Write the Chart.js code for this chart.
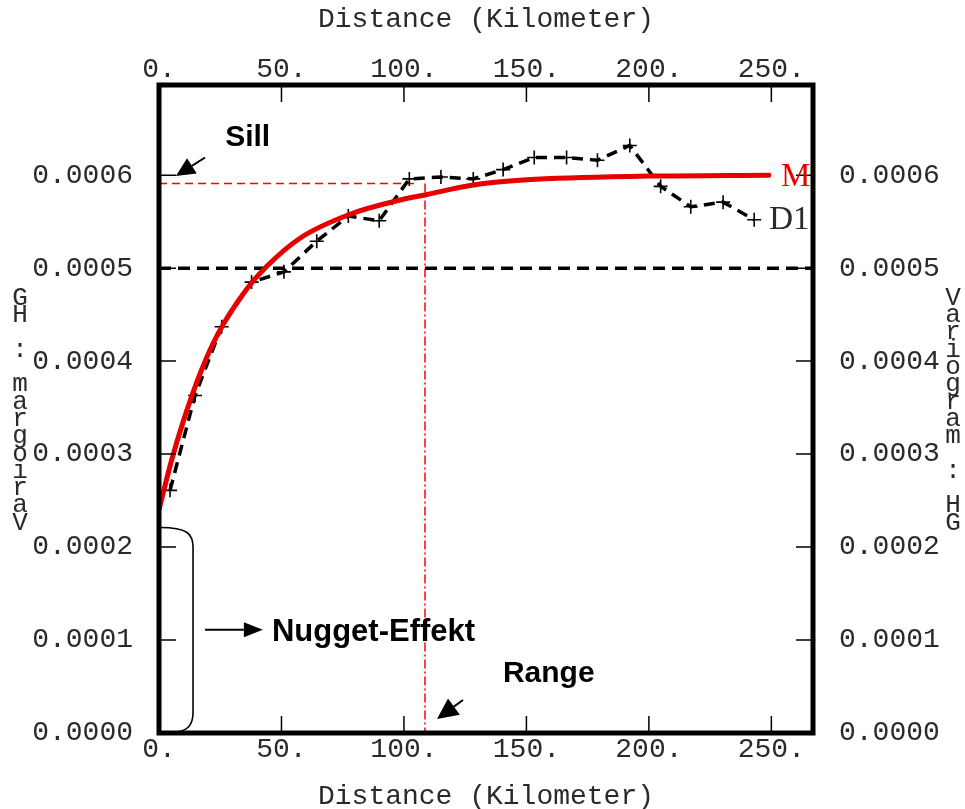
<!DOCTYPE html>
<html>
<head>
<meta charset="utf-8">
<script src="https://cdn.jsdelivr.net/npm/chart.js@4"></script>
<style>
  body { margin: 0; background: #fff; }
</style>
</head>
<body>
<canvas id="vario" width="965" height="809"></canvas>
<script>
// experimental variogram D1 (distance km, gamma)
const lagKm = [4.5, 14.7, 25.6, 37.8, 51, 64.4, 77.3, 89.9, 102.2, 115.1, 128.3, 140.5, 153.2, 166.4, 179, 192.2, 204.8, 217.1, 230.3, 243];
const gammaD1 = [0.000261, 0.000363, 0.000437, 0.000485, 0.000496, 0.000529, 0.000556, 0.000551, 0.000596, 0.000598,
                 0.000596, 0.000606, 0.000619, 0.000619, 0.000616, 0.000632, 0.000588, 0.000566, 0.000571, 0.000552];

// fitted model M
const modelKm = [0, 5, 10, 17, 24, 36, 44, 58, 78, 98, 109, 127, 150, 200, 249];
const gammaM = [0.00024, 0.000292, 0.000336, 0.000388, 0.000429, 0.000478, 0.000502, 0.000533, 0.000558,
                0.000573, 0.000579, 0.000589, 0.000595, 0.000599, 0.0006];

const xTicks = [0, 50, 100, 150, 200, 250];
const yTicks = [0, 0.0001, 0.0002, 0.0003, 0.0004, 0.0005, 0.0006];

const refLevel = 0.0005;   // black dashed line
const sillLevel = 0.000591;
const sillEndKm = 105;
const rangeKm = 108.6;
const nuggetTop = 0.000221;

const xMax = 267, yMax = 0.000697;
const monoFont = '"Liberation Mono", "DejaVu Sans Mono", monospace';
const textColor = '#2a2a2a';

const pts = (xs, ys) => xs.map((v, i) => ({x: v, y: ys[i]}));

function arrow(ctx, x1, y1, x2, y2, head, wing) {
  const ang = Math.atan2(y2 - y1, x2 - x1);
  const bx = x2 - head * Math.cos(ang), by = y2 - head * Math.sin(ang);
  ctx.beginPath();
  ctx.moveTo(x1, y1);
  ctx.lineTo(bx, by);
  ctx.stroke();
  ctx.beginPath();
  ctx.moveTo(x2, y2);
  ctx.lineTo(bx + wing * Math.sin(ang), by - wing * Math.cos(ang));
  ctx.lineTo(bx - wing * Math.sin(ang), by + wing * Math.cos(ang));
  ctx.closePath();
  ctx.fill();
}

const decor = {
  id: 'decor',
  afterDraw(chart) {
    const {ctx, chartArea: a, scales} = chart;
    const X = v => scales.x.getPixelForValue(v);
    const Y = v => scales.y.getPixelForValue(v);
    ctx.save();

    // inward tick marks
    ctx.strokeStyle = '#000';
    ctx.lineWidth = 1.5;
    ctx.beginPath();
    xTicks.forEach(v => {
      const px = X(v);
      ctx.moveTo(px, a.bottom); ctx.lineTo(px, a.bottom - 17);
      ctx.moveTo(px, a.top); ctx.lineTo(px, a.top + 17);
    });
    yTicks.forEach(v => {
      const py = Y(v);
      ctx.moveTo(a.left, py); ctx.lineTo(a.left + 17, py);
      ctx.moveTo(a.right, py); ctx.lineTo(a.right - 17, py);
    });
    ctx.stroke();

    // series names at the line ends
    ctx.save();
    ctx.beginPath();
    ctx.rect(a.left, a.top, a.right - a.left, a.bottom - a.top);
    ctx.clip();
    ctx.font = '33px "Liberation Serif", serif';
    ctx.textBaseline = 'middle';
    ctx.textAlign = 'left';
    const mEnd = chart.getDatasetMeta(0).data[gammaM.length - 1];
    ctx.fillStyle = '#e60000';
    ctx.fillText('M', mEnd.x + 12, mEnd.y + 2);
    const dEnd = chart.getDatasetMeta(1).data[gammaD1.length - 1];
    ctx.fillStyle = textColor;
    ctx.fillText('D1', dEnd.x + 15, dEnd.y + 1);
    ctx.restore();

    // annotations
    ctx.fillStyle = '#000';
    ctx.strokeStyle = '#000';
    ctx.font = 'bold 30px "Liberation Sans", Arial, sans-serif';
    ctx.textBaseline = 'alphabetic';
    ctx.fillText('Sill', X(27), Y(0.000631));
    ctx.lineWidth = 2;
    arrow(ctx, X(18.8), Y(0.000619), X(6.9), Y(0.000599), 19, 9);

    ctx.font = 'bold 31px "Liberation Sans", Arial, sans-serif';
    ctx.fillText('Nugget-Effekt', X(46.1), Y(0.0001) + 1);
    arrow(ctx, X(18.8), Y(0.000111), X(42.4), Y(0.000111), 19, 7.5);

    ctx.font = 'bold 30px "Liberation Sans", Arial, sans-serif';
    ctx.fillText('Range', X(140.4), Y(0.0000548));
    arrow(ctx, X(124.1), Y(0.0000355), X(113.5), Y(0.000015), 21, 10);

    // nugget bracket
    const bTop = Y(nuggetTop), bBot = a.bottom - 1, bx = X(13.9);
    ctx.lineWidth = 1.6;
    ctx.beginPath();
    ctx.moveTo(a.left + 1, bTop);
    ctx.bezierCurveTo(bx - 6, bTop, bx, bTop + 6, bx, bTop + 20);
    ctx.lineTo(bx, bBot - 20);
    ctx.bezierCurveTo(bx, bBot - 6, bx - 6, bBot, bx - 21, bBot);
    ctx.stroke();

    // axis titles
    ctx.fillStyle = textColor;
    ctx.font = '28px ' + monoFont;
    ctx.textAlign = 'center';
    ctx.textBaseline = 'middle';
    const cx = (a.left + a.right) / 2;
    ctx.fillText('Distance (Kilometer)', cx, 20);
    ctx.fillText('Distance (Kilometer)', cx, 797);

    const yTitle = 'Variogram : HG';
    ctx.font = '26px ' + monoFont;
    const step = 17.3;
    [...yTitle].forEach((ch, i) => {
      ctx.fillText(ch, 953, 298 + i * step);
    });
    [...yTitle].reverse().forEach((ch, i) => {
      ctx.fillText(ch, 20, 298 + i * step);
    });

    // frame
    ctx.strokeStyle = '#000';
    ctx.lineWidth = 5;
    ctx.strokeRect(a.left, a.top, a.right - a.left, a.bottom - a.top);
    ctx.restore();
  }
};

const tickFont = {family: monoFont, size: 28, lineHeight: 1};

function xAxis(position, height, pad) {
  return {
    type: 'linear', position, min: 0, max: xMax,
    afterBuildTicks: s => { s.ticks = xTicks.map(v => ({value: v})); },
    afterFit: s => { s.height = height; },
    grid: {display: false, drawTicks: false, tickLength: 0},
    border: {display: false},
    ticks: {font: tickFont, color: textColor, padding: pad, maxRotation: 0, autoSkip: false,
            callback: v => v + '.'}
  };
}

function yAxis(position, width) {
  return {
    type: 'linear', position, min: 0, max: yMax,
    afterBuildTicks: s => { s.ticks = yTicks.map(v => ({value: v})); },
    afterFit: s => { s.width = width; },
    grid: {display: false, drawTicks: false, tickLength: 0},
    border: {display: false},
    ticks: {font: tickFont, color: textColor, padding: 26, autoSkip: false,
            callback: v => v.toFixed(4)}
  };
}

new Chart(document.getElementById('vario').getContext('2d'), {
  type: 'line',
  data: {
    datasets: [
      {
        label: 'M',
        data: pts(modelKm, gammaM),
        borderColor: '#e60000',
        borderWidth: 5,
        borderCapStyle: 'round',
        cubicInterpolationMode: 'monotone',
        pointRadius: 0
      },
      {
        label: 'D1',
        data: pts(lagKm, gammaD1),
        borderColor: '#000',
        borderWidth: 3.5,
        borderDash: [11, 7],
        pointStyle: 'cross',
        pointRadius: 7,
        pointBorderWidth: 1.6,
        pointBorderColor: '#000'
      },
      {
        label: 'ref',
        data: pts([0, xMax], [refLevel, refLevel]),
        borderColor: '#000',
        borderWidth: 3.5,
        borderDash: [12, 7],
        pointRadius: 0
      },
      {
        label: 'sill',
        data: pts([0, sillEndKm], [sillLevel, sillLevel]),
        borderColor: '#ff0000',
        borderWidth: 1.5,
        borderDash: [8, 5],
        pointRadius: 0
      },
      {
        label: 'range',
        data: pts([rangeKm, rangeKm], [sillLevel, 0]),
        borderColor: '#ff0000',
        borderWidth: 1.5,
        borderDash: [9, 3, 2, 3],
        pointRadius: 0
      }
    ]
  },
  options: {
    responsive: false,
    animation: false,
    layout: {padding: 0},
    plugins: {legend: {display: false}, tooltip: {enabled: false}},
    scales: {
      x: xAxis('bottom', 76, 3),
      x2: xAxis('top', 85, 1),
      y: yAxis('left', 159),
      y2: yAxis('right', 152)
    }
  },
  plugins: [decor]
});
</script>
</body>
</html>
